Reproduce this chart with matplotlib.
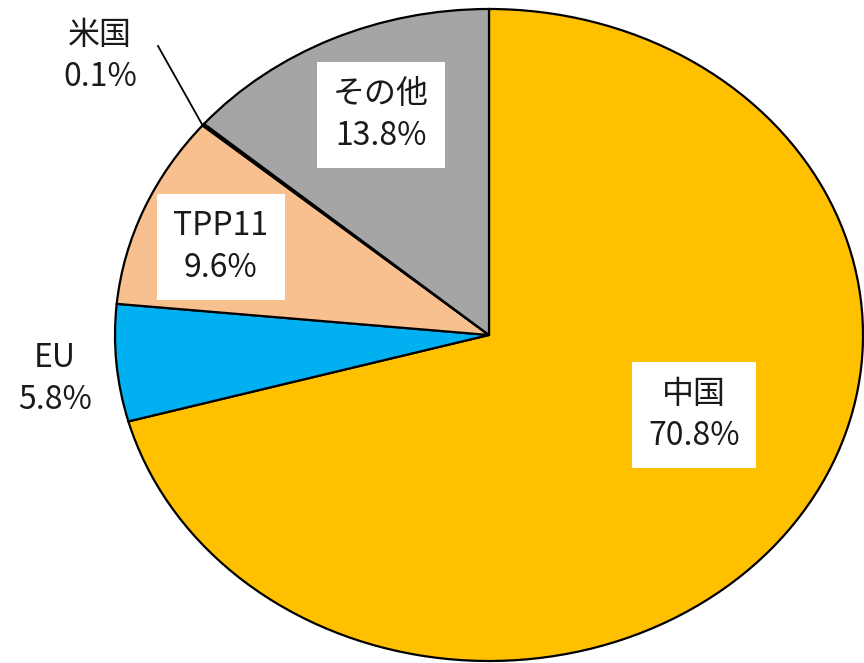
import matplotlib
matplotlib.use("Agg")
import matplotlib.pyplot as plt

plt.rcParams['font.family'] = ['Noto Sans CJK JP', 'DejaVu Sans']

# 輸出先シェア
labels = ["中国", "EU", "TPP11", "米国", "その他"]
shares = [70.8, 5.8, 9.6, 0.1, 13.8]
colors = ["#FFC000", "#00B0F0", "#F8BF8F", "#4472C4", "#A5A5A5"]

W, H = 864, 663
cx, cy, rx, ry = 489, 335, 374, 326   # pie centre / radii in pixels


def px(x, y):
    # pixel position (from top-left) -> data coords of the unit pie
    return (x - cx) / rx, (cy - y) / ry


fig = plt.figure(figsize=(W / 100, H / 100), dpi=100)
ax = fig.add_axes([0, 0, 1, 1])

ax.pie(shares, colors=colors, startangle=90, counterclock=False,
       wedgeprops=dict(edgecolor="black", linewidth=1.6))

ax.set_xlim(-cx / rx, (W - cx) / rx)
ax.set_ylim((cy - H) / ry, cy / ry)
ax.set_aspect("auto")
ax.axis("off")

box = dict(boxstyle="square,pad=0.5", facecolor="white", edgecolor="none")
txt = dict(fontsize=23, ha="center", va="center", color="#1a1a1a", linespacing=1.4)

# labels: (index, pixel x, pixel y, boxed)
placements = [(0, 694, 415, True), (1, 55, 379, False), (2, 221, 247, True),
              (3, 100, 56, False), (4, 381, 115, True)]
for i, x, y, boxed in placements:
    lx, ly = px(x, y)
    ax.text(lx, ly, f"{labels[i]}\n{shares[i]}%", bbox=box if boxed else None, **txt)

# leader line for 米国
x0, y0 = px(158, 46)
x1, y1 = px(203, 126)
ax.plot([x0, x1], [y0, y1], color="black", linewidth=1.3)

fig.savefig("out.png", dpi=100)
